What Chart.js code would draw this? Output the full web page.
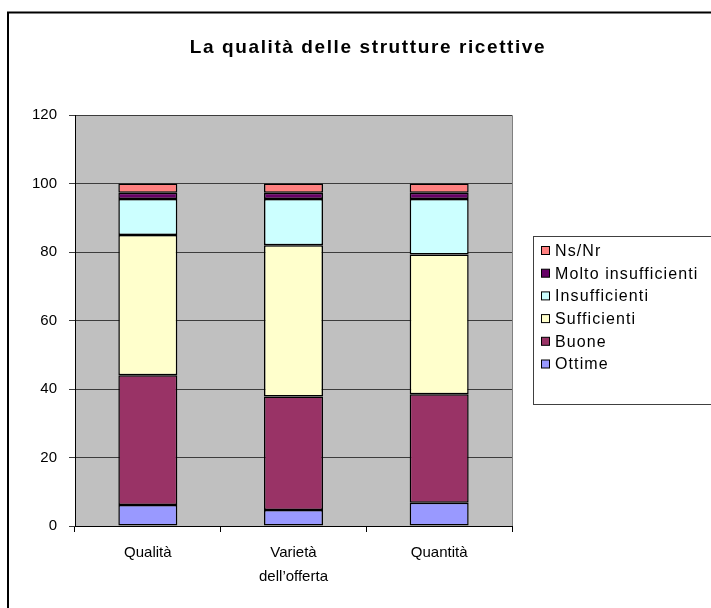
<!DOCTYPE html>
<html lang="it">
<head>
    <meta charset="UTF-8">
    <title>La qualità delle strutture ricettive</title>
    <script src="https://cdn.jsdelivr.net/npm/chart.js"></script>
    <style>
        body { margin: 0; background: #fff; }
        #grafico { display: block; }
    </style>
</head>
<body>
    <canvas id="grafico" width="711" height="608"></canvas>

<script>
    // dati (percentuali)
    const categorie = ['Qualità', ['Varietà', 'dell\u2019offerta'], 'Quantità'];
    const ottime = [6.1, 4.7, 6.8];
    const buone = [37.9, 33.1, 31.7];
    const sufficienti = [41.0, 44.2, 40.8];
    const insufficienti = [10.5, 13.5, 16.2];
    const moltoInsufficienti = [1.8, 1.8, 1.8];
    const nsNr = [2.7, 2.7, 2.7];
    const tickY = [0, 20, 40, 60, 80, 100, 120];

    const FONT = 'Arial, "Liberation Sans", sans-serif';

    function serie(nome, valori, colore) {
        return {
            label: nome,
            data: valori,
            backgroundColor: colore,
            borderColor: '#000',
            borderWidth: 1.5,
            borderSkipped: false,
            categoryPercentage: 1,
            barPercentage: 0.405
        };
    }

    // sfondo grigio, titolo, cornice e legenda
    const decorazioni = {
        id: 'decorazioni',
        beforeDraw(chart) {
            const ctx = chart.ctx;
            const a = chart.chartArea;
            ctx.save();
            ctx.fillStyle = '#c0c0c0';
            ctx.fillRect(a.left, a.top, a.right - a.left, a.bottom - a.top);
            ctx.strokeStyle = '#808080';
            ctx.lineWidth = 1;
            ctx.beginPath();
            ctx.moveTo(a.left, a.top + 0.5);
            ctx.lineTo(a.right + 0.5, a.top + 0.5);
            ctx.lineTo(a.right + 0.5, a.bottom);
            ctx.stroke();
            ctx.restore();
        },
        afterDraw(chart) {
            const ctx = chart.ctx;
            ctx.save();
            // cornice esterna
            ctx.strokeStyle = '#000';
            ctx.lineWidth = 2;
            ctx.beginPath();
            ctx.moveTo(8, 608);
            ctx.lineTo(8, 12.5);
            ctx.lineTo(711, 12.5);
            ctx.stroke();

            // titolo
            ctx.fillStyle = '#000';
            ctx.font = 'bold 19px ' + FONT;
            ctx.letterSpacing = '1.6px';
            ctx.textAlign = 'center';
            ctx.textBaseline = 'middle';
            ctx.fillText('La qualità delle strutture ricettive', 368, 48);

            // legenda
            ctx.strokeStyle = '#404040';
            ctx.lineWidth = 1;
            ctx.fillStyle = '#fff';
            ctx.fillRect(533.5, 236.5, 180, 168);
            ctx.strokeRect(533.5, 236.5, 180, 168);
            ctx.font = '16px ' + FONT;
            ctx.letterSpacing = '1.1px';
            ctx.textAlign = 'left';
            const ds = chart.data.datasets.slice().reverse();
            for (let i = 0; i < ds.length; i++) {
                const y = 251 + i * 22.7;
                ctx.fillStyle = ds[i].backgroundColor;
                ctx.fillRect(541.5, y - 4.5, 8, 8);
                ctx.strokeStyle = '#000';
                ctx.strokeRect(541.5, y - 4.5, 8, 8);
                ctx.fillStyle = '#000';
                ctx.fillText(ds[i].label, 555, y + 0.5);
            }
            ctx.restore();
        }
    };

    new Chart(document.getElementById('grafico'), {
        type: 'bar',
        data: {
            labels: categorie,
            datasets: [
                serie('Ottime', ottime, '#9999ff'),
                serie('Buone', buone, '#993366'),
                serie('Sufficienti', sufficienti, '#ffffcc'),
                serie('Insufficienti', insufficienti, '#ccffff'),
                serie('Molto insufficienti', moltoInsufficienti, '#660066'),
                serie('Ns/Nr', nsNr, '#ff8080')
            ]
        },
        options: {
            responsive: false,
            animation: false,
            layout: { padding: { left: 0, top: 115, right: 199, bottom: 0 } },
            plugins: {
                legend: { display: false },
                title: { display: false },
                tooltip: { enabled: false }
            },
            scales: {
                x: {
                    stacked: true,
                    afterFit: function (s) { s.height = 82; },
                    grid: {
                        offset: true,
                        drawOnChartArea: false,
                        drawTicks: true,
                        tickLength: 6,
                        color: '#000'
                    },
                    border: { color: '#000', width: 1 },
                    ticks: {
                        color: '#000',
                        font: { family: FONT, size: 15, lineHeight: 1.6 },
                        padding: 9,
                        maxRotation: 0
                    }
                },
                y: {
                    stacked: true,
                    min: 0,
                    max: 120,
                    afterFit: function (s) { s.width = 75; },
                    afterBuildTicks: function (s) {
                        s.ticks = tickY.map(function (v) { return { value: v }; });
                    },
                    grid: {
                        color: '#3c3c3c',
                        lineWidth: 1,
                        drawTicks: true,
                        tickLength: 6
                    },
                    border: { color: '#000', width: 1 },
                    ticks: {
                        color: '#000',
                        font: { family: FONT, size: 15 },
                        padding: 12
                    }
                }
            }
        },
        plugins: [decorazioni]
    });
</script>
</body>
</html>
